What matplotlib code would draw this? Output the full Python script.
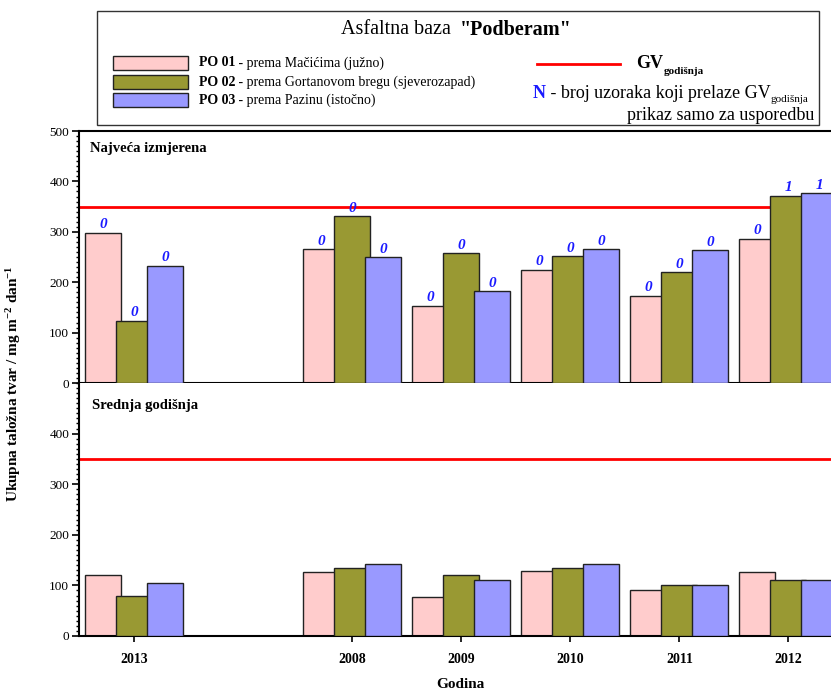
import numpy as np
import matplotlib
matplotlib.use("Agg")
import matplotlib.pyplot as plt
from matplotlib.patches import Rectangle
from matplotlib.lines import Line2D
from matplotlib.ticker import MultipleLocator

# ---------------- data ----------------
categories = ["2013", "", "2008", "2009", "2010", "2011", "2012"]
series_names = ["PO 01", "PO 02", "PO 03"]
series_desc = ["prema Mačićima (južno)", "prema Gortanovom bregu (sjeverozapad)", "prema Pazinu (istočno)"]
series_colors = ["#ffcccc", "#999933", "#9999ff"]

max_po01 = [298, np.nan, 265, 153, 225, 173, 286]
max_po02 = [124, np.nan, 331, 257, 252, 220, 372]
max_po03 = [233, np.nan, 250, 182, 265, 263, 377]

mean_po01 = [120, np.nan, 126, 77, 128, 90, 126]
mean_po02 = [79, np.nan, 135, 121, 134, 100, 111]
mean_po03 = [105, np.nan, 142, 110, 142, 101, 110]

n_po01 = [0, None, 0, 0, 0, 0, 0]
n_po02 = [0, None, 0, 0, 0, 0, 1]
n_po03 = [0, None, 0, 0, 0, 0, 1]

gv_limit = 350
y_ticks_top = [0, 100, 200, 300, 400, 500]
y_ticks_bottom = [0, 100, 200, 300, 400]

# ---------------- style ----------------
plt.rcParams['font.family'] = ['Liberation Serif', 'DejaVu Serif']
plt.rcParams['mathtext.fontset'] = 'custom'
plt.rcParams['mathtext.rm'] = 'Liberation Serif'
plt.rcParams['mathtext.bf'] = 'Liberation Serif:bold'
plt.rcParams['mathtext.it'] = 'Liberation Serif:italic'

W, H = 831, 691
fig = plt.figure(figsize=(W / 100, H / 100), dpi=100)

def fx(px):
    return px / W

def fy(py):
    return 1 - py / H

ax1 = fig.add_axes([fx(79), fy(383), (W - 79) / W, 252 / H])
ax2 = fig.add_axes([fx(79), fy(636), (W - 79) / W, 253 / H])

x = np.arange(len(categories))
width = 0.33
offsets = [-0.284, 0.0, 0.284]
edge = "#222222"

def draw_panel(ax, data, counts=None):
    ax.axhline(gv_limit, color="#ff0000", lw=2, zorder=1)
    for i, (vals, col) in enumerate(zip(data, series_colors)):
        vals = np.asarray(vals, dtype=float)
        m = ~np.isnan(vals)
        ax.bar(x[m] + offsets[i], vals[m], width=width, color=col,
               edgecolor=edge, linewidth=1.0, zorder=2 + i)
        if counts is not None:
            cnt = np.asarray(counts[i], dtype=object)
            for xi, v, n in zip(x[m], vals[m], cnt[m]):
                ax.annotate(str(n), (xi + offsets[i], v), xytext=(0, 1),
                            textcoords="offset points", ha="center", va="bottom",
                            color="#1a1aff", fontweight="bold", fontstyle="italic",
                            fontsize=11, zorder=10)
    ax.set_xlim(-0.505, 6.39)
    ax.set_ylim(0, 500)
    ax.spines['right'].set_visible(False)
    for s in ['left', 'bottom', 'top']:
        ax.spines[s].set_linewidth(1.5)
    ax.yaxis.set_minor_locator(MultipleLocator(10))
    ax.tick_params(axis='y', which='major', direction='out', length=5, width=1.2, labelsize=9.5, pad=2)
    ax.tick_params(axis='y', which='minor', direction='out', length=2.5, width=1)
    ax.tick_params(axis='x', which='major', direction='out', length=4, width=1.2, pad=8)
    tick_pos = [xi for xi, c in zip(x, categories) if c]
    tick_lab = [c for c in categories if c]
    ax.set_xticks(tick_pos)
    return tick_lab

draw_panel(ax1, [max_po01, max_po02, max_po03], [n_po01, n_po02, n_po03])
ax1.set_yticks(y_ticks_top)
ax1.set_xticklabels([])
ax1.text(0.015, 0.93, "Najveća izmjerena", transform=ax1.transAxes,
         fontsize=10.5, fontweight="bold", va="center", ha="left")

labs = draw_panel(ax2, [mean_po01, mean_po02, mean_po03])
ax2.set_yticks(y_ticks_bottom)
ax2.set_xticklabels(labs, fontweight="bold", fontsize=10)
ax2.spines['top'].set_visible(False)
ax2.text(0.017, 0.91, "Srednja godišnja", transform=ax2.transAxes,
         fontsize=10.5, fontweight="bold", va="center", ha="left")

fig.text(fx(14), fy(384), r"Ukupna taložna tvar / mg m$^{\mathbf{-2}}$ dan$^{\mathbf{-1}}$",
         rotation=90, ha="center", va="center", fontsize=11, fontweight="bold")
fig.text(fx(460), fy(685), "Godina", ha="center", va="center", fontsize=11, fontweight="bold")

# ---------------- legend box ----------------
fig.add_artist(Rectangle((fx(97), fy(125)), (819 - 97) / W, (125 - 11) / H,
                         transform=fig.transFigure, fill=False, edgecolor="#333333", lw=1))
fig.text(fx(456), fy(30), "Asfaltna baza ", ha="right", va="center", fontsize=14.5)
fig.text(fx(460), fy(30), '"Podberam"', ha="left", va="center", fontsize=14.5, fontweight="bold")

row_y = [63, 82, 100]
renderer = fig.canvas.get_renderer()
for ry, name, desc, col in zip(row_y, series_names, series_desc, series_colors):
    fig.add_artist(Rectangle((fx(113), fy(ry + 6.5)), 75 / W, 13 / H,
                             transform=fig.transFigure, facecolor=col,
                             edgecolor="#222222", lw=1))
    t = fig.text(fx(199), fy(ry), name, ha="left", va="center", fontsize=10, fontweight="bold")
    bb = t.get_window_extent(renderer)
    fig.text(bb.x1 / W, fy(ry), " - " + desc, ha="left", va="center", fontsize=10)

fig.add_artist(Line2D([fx(537), fx(620)], [fy(64), fy(64)], transform=fig.transFigure,
                      color="#ff0000", lw=2))
t = fig.text(fx(636), fy(64), "GV", ha="left", va="center", fontsize=13, fontweight="bold")
bb = t.get_window_extent(renderer)
fig.text(bb.x1 / W + 0.001, fy(71), "godišnja", ha="left", va="center", fontsize=8, fontweight="bold")

t = fig.text(fx(533), fy(94), "N", ha="left", va="center", fontsize=13, fontweight="bold", color="#1a1aff")
bb = t.get_window_extent(renderer)
t = fig.text(bb.x1 / W, fy(94), " - broj uzoraka koji prelaze GV", ha="left", va="center", fontsize=13)
bb = t.get_window_extent(renderer)
fig.text(bb.x1 / W, fy(100), "godišnja", ha="left", va="center", fontsize=8)
fig.text(fx(814), fy(115), "prikaz samo za usporedbu", ha="right", va="center", fontsize=13)

fig.savefig("out.png", dpi=100)
